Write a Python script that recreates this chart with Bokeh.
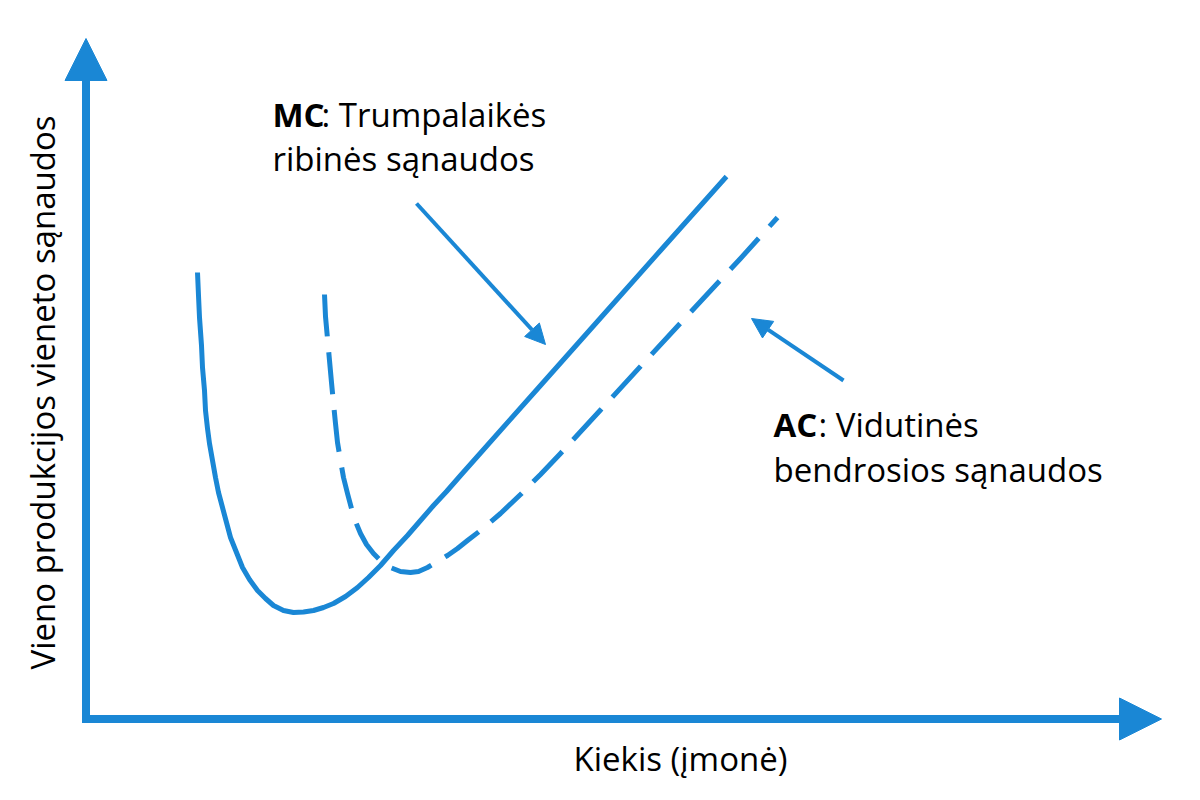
from bokeh.plotting import figure
from bokeh.models import Range1d, Arrow, NormalHead
from bokeh.core.properties import value
from bokeh.embed import file_html
from bokeh.resources import INLINE
import math

# ---- data (quantity, unit cost) in chart units ----
mc_q    = [197, 198, 199, 201, 202, 204, 205, 207, 209, 212, 215, 218, 222, 226, 230, 236, 242, 249,
           257, 265, 273, 283, 293, 303, 313, 323, 333, 345, 357, 368, 380, 393, 407, 420, 433, 446,
           460, 480, 540, 600, 660, 726]
mc_cost = [528, 505, 483, 455, 433, 410, 390, 372, 357, 340, 323, 308, 293, 278, 263, 248, 233, 221,
           210, 202, 195, 190, 188, 188.5, 190, 193, 197, 204, 213, 223, 235, 250, 265, 280, 295, 309,
           325, 347.5, 415, 482.5, 550, 624]

ac_q    = [324, 325, 327, 329, 331, 333, 335, 337, 340, 343, 347, 351, 355, 360, 366, 373, 381, 390,
           400, 410, 418, 427, 437, 447, 457, 467, 480, 500, 520, 540, 560, 600, 650, 700, 740, 777]
ac_cost = [506, 484, 462, 440, 418, 397, 377, 358, 340, 323, 307, 292, 279, 267, 256, 247, 239, 233,
           229, 228, 229, 233, 239, 245, 252, 260, 270, 287, 306, 326, 347, 390.5, 445, 499, 542, 583]

mc_title = ["MC", ": Trumpalaikės", "ribinės sąnaudos"]
ac_title = ["AC", ": Vidutinės", "bendrosios sąnaudos"]
x_label = "Kiekis (įmonė)"
y_label = "Vieno produkcijos vieneto sąnaudos"

BLUE = "#1a87d5"
FONT = value("Open Sans")
FS = "33px"

p = figure(width=1184, height=784, x_range=Range1d(0, 1184), y_range=Range1d(16, 800),
           output_backend="svg", toolbar_location=None, min_border=0)
p.axis.visible = False
p.grid.visible = False
p.outline_line_color = None
p.background_fill_color = "white"
p.border_fill_color = "white"

# axes with arrowheads
p.add_layout(Arrow(end=NormalHead(size=42, fill_color=BLUE, line_color=BLUE, line_width=1),
                   x_start=85.5, y_start=78, x_end=85.5, y_end=762,
                   line_color=BLUE, line_width=8))
p.add_layout(Arrow(end=NormalHead(size=42, fill_color=BLUE, line_color=BLUE, line_width=1),
                   x_start=81.5, y_start=81.5, x_end=1161, y_end=81.5,
                   line_color=BLUE, line_width=8))

# curves
p.line(mc_q, mc_cost, line_color=BLUE, line_width=5, line_join="round")
p.line(ac_q, ac_cost, line_color=BLUE, line_width=5, line_dash="42 16", line_join="round")

# pointer arrows
p.add_layout(Arrow(end=NormalHead(size=20, fill_color=BLUE, line_color=BLUE, line_width=1),
                   x_start=416, y_start=597, x_end=545, y_end=456,
                   line_color=BLUE, line_width=4))
p.add_layout(Arrow(end=NormalHead(size=20, fill_color=BLUE, line_color=BLUE, line_width=1),
                   x_start=843, y_start=420, x_end=751, y_end=482,
                   line_color=BLUE, line_width=4))

# labels
p.text(x=[272], y=[686], text=[mc_title[0]], text_font=FONT, text_font_size=FS,
       text_font_style="bold", text_color="black", text_baseline="alphabetic")
p.text(x=[321], y=[686], text=[mc_title[1]], text_font=FONT, text_font_size=FS,
       text_color="black", text_baseline="alphabetic")
p.text(x=[272], y=[642], text=[mc_title[2]], text_font=FONT, text_font_size=FS,
       text_color="black", text_baseline="alphabetic")

p.text(x=[773], y=[376], text=[ac_title[0]], text_font=FONT, text_font_size=FS,
       text_font_style="bold", text_color="black", text_baseline="alphabetic")
p.text(x=[818], y=[376], text=[ac_title[1]], text_font=FONT, text_font_size=FS,
       text_color="black", text_baseline="alphabetic")
p.text(x=[773], y=[331], text=[ac_title[2]], text_font=FONT, text_font_size=FS,
       text_color="black", text_baseline="alphabetic")

p.text(x=[680], y=[42], text=[x_label], text_font=FONT, text_font_size=FS,
       text_color="black", text_align="center", text_baseline="alphabetic")
p.text(x=[42], y=[408], text=[y_label], text_font=FONT, text_font_size=FS,
       text_color="black", text_align="center", text_baseline="alphabetic", angle=math.pi / 2)

open("out.html", "w").write(file_html(p, INLINE))
